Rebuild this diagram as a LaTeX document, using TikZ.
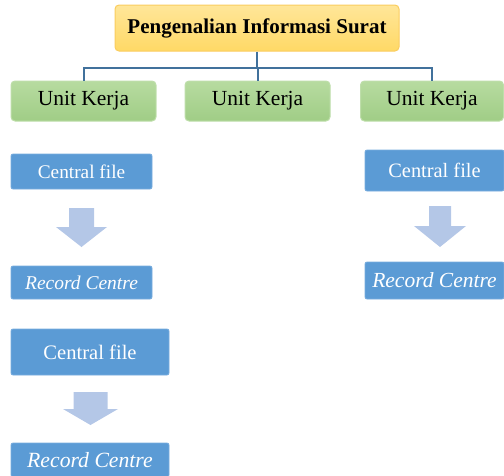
\documentclass[tikz,border=0pt]{standalone}
\usepackage{fontspec}
\setmainfont{Liberation Serif}
\usepackage{tikz}
\usetikzlibrary{positioning,calc}
\definecolor{TitleFill}{RGB}{255,217,102}
\definecolor{TitleTop}{RGB}{255,230,153}
\definecolor{TitleLine}{RGB}{250,205,95}
\definecolor{UnitTop}{RGB}{183,219,160}
\definecolor{UnitBot}{RGB}{160,205,134}
\definecolor{UnitLine}{RGB}{190,222,170}
\definecolor{FileBlue}{RGB}{91,155,213}
\definecolor{FileLine}{RGB}{120,172,222}
\definecolor{ArrowBlue}{RGB}{180,199,231}
\definecolor{LinkBlue}{RGB}{65,113,156}
\newcommand{\blockdown}[6]{%
  \fill[ArrowBlue] (#1-#5,#2) -- (#1+#5,#2) -- (#1+#5,#3) -- (#1+#6,#3) -- (#1,#4) -- (#1-#6,#3) -- (#1-#5,#3) -- cycle;}

\begin{document}
\begin{tikzpicture}[
    x=1pt, y=-1pt,
    titlebox/.style={rounded corners=4pt, draw=TitleLine, line width=1pt, top color=TitleTop, bottom color=TitleFill, inner sep=0pt, align=center, font=\fontsize{21}{24}\selectfont\bfseries},
    unitbox/.style={rounded corners=4pt, draw=UnitLine, line width=1pt, top color=UnitTop, bottom color=UnitBot, inner sep=0pt, minimum width=145pt, minimum height=40pt, align=center, font=\fontsize{21.5}{24}\selectfont},
    filebox/.style={rounded corners=2pt, draw=FileLine, line width=0.8pt, fill=FileBlue, text=white, inner sep=0pt, align=center},
    link/.style={draw=LinkBlue, line width=2pt}
  ]
    \useasboundingbox (0,0) rectangle (504,475);
    % title and units
    \node[titlebox, minimum width=284pt, minimum height=46pt] (title) at (257,28) {Pengenalian Informasi Surat};
    \node[unitbox] (unitA) at (83.5,101) {Unit Kerja};
    \node[unitbox] (unitB) at (257.5,101) {Unit Kerja};
    \node[unitbox, minimum width=143pt] (unitC) at (432,101) {Unit Kerja};
    \coordinate (split) at ($(title.south)+(0,16)$);
    \draw[link] (title.south) -- (split);
    \foreach \u in {unitA,unitB,unitC} {\draw[link] (split) -| (\u.north);}
    % left column
    \node[filebox, minimum width=141pt, minimum height=35pt, font=\fontsize{19.3}{22}\selectfont] (cfA) at (81.5,171.5) {Central file};
    \node[filebox, minimum width=141pt, minimum height=33pt, font=\fontsize{19.5}{22}\selectfont\itshape] (rcA) at (81.5,282.5) {Record Centre};
    \blockdown{81.5}{208}{227}{247}{12.5}{25.5}
    \node[filebox, minimum width=158pt, minimum height=46pt, font=\fontsize{20.6}{24}\selectfont] (cfC) at (90,352) {Central file};
    \node[filebox, minimum width=158pt, minimum height=34pt, font=\fontsize{21.7}{24}\selectfont\itshape] (rcC) at (90,460) {Record Centre};
    \blockdown{90.5}{392}{409}{425}{17}{27.5}
    % right column
    \node[filebox, minimum width=139pt, minimum height=41pt, font=\fontsize{20.4}{24}\selectfont] (cfB) at (434.5,170.5) {Central file};
    \node[filebox, minimum width=139pt, minimum height=37pt, font=\fontsize{21.5}{24}\selectfont\itshape] (rcB) at (434.5,280.5) {Record Centre};
    \blockdown{440}{206}{226}{247}{11}{26}
\end{tikzpicture}
\end{document}
